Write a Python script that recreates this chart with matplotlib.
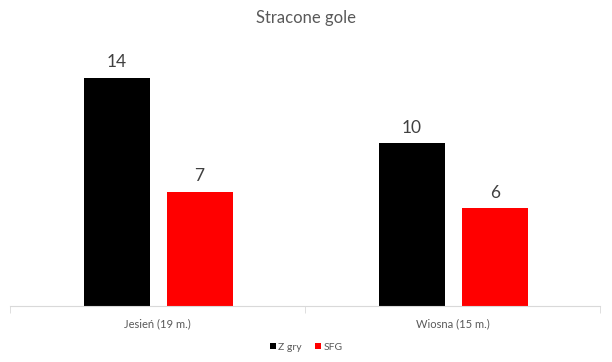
import numpy as np
import matplotlib.pyplot as plt

# dane
kategorie = ["Jesień (19 m.)", "Wiosna (15 m.)"]
z_gry = [14, 10]
sfg = [7, 6]

plt.rcParams['font.family'] = ['Lato', 'DejaVu Sans']
szary = '#595959'

fig = plt.figure(figsize=(6.12, 3.62), dpi=100)
ax = fig.add_axes([10 / 612, 56 / 362, 590 / 612, 261 / 362])

x = np.arange(len(kategorie))
w = 0.224
b1 = ax.bar(x - 0.137, z_gry, w, color='#000000', label='Z gry')
b2 = ax.bar(x + 0.143, sfg, w, color='#ff0000', label='SFG')

for bars in (b1, b2):
    for b in bars:
        ax.text(b.get_x() + b.get_width() / 2, b.get_height() + 0.45,
                f"{b.get_height():g}", ha='center', va='bottom',
                fontsize=12.5, color='#404040')

ax.set_xlim(-0.5, 1.5)
ax.set_ylim(0, 16)
ax.set_yticks([])
for s in ('top', 'right', 'left'):
    ax.spines[s].set_visible(False)
ax.spines['bottom'].set_color('#d9d9d9')

ax.set_xticks(x)
ax.set_xticklabels(kategorie, fontsize=8, color=szary)
ax.tick_params(axis='x', which='major', length=0, pad=9)
ax.set_xticks([-0.5, 0.5, 1.5], minor=True)
ax.tick_params(axis='x', which='minor', length=5, color='#d9d9d9')

fig.text(0.5, 1 - 18 / 362, "Stracone gole", ha='center', va='center',
         fontsize=12, color=szary)

fig.legend(loc='center', bbox_to_anchor=(0.5, 1 - 347 / 362), ncol=2,
           frameon=False, fontsize=7.5, labelcolor=szary,
           handlelength=0.6, handleheight=0.6, handletextpad=0.25,
           columnspacing=1.2)

fig.savefig("out.png", dpi=100)
